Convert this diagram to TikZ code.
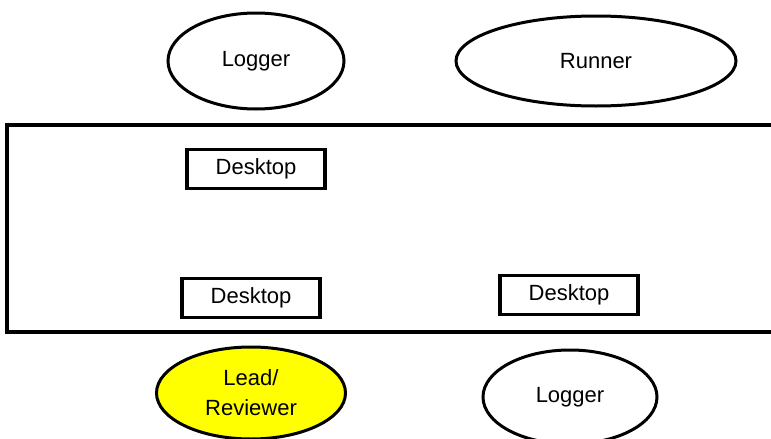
\documentclass[tikz,border=0pt]{standalone}
\usepackage{fontspec}
\setmainfont{Liberation Sans}
\usetikzlibrary{shapes.geometric}
\definecolor{UcYellow}{RGB}{255,255,0}
\tikzset{
  uc/actor/.style={
    ellipse,
    draw=black,
    line width=3pt,
    fill=white,
    align=center,
    inner sep=0pt,
    font=\fontsize{22}{30}\selectfont
  },
  uc/lead/.style={uc/actor, fill=UcYellow},
  uc/device/.style={
    rectangle,
    draw=black,
    line width=3.2pt,
    fill=white,
    minimum width=138pt,
    minimum height=39pt,
    inner sep=0pt,
    font=\fontsize{22}{28}\selectfont
  },
  uc/frame/.style={draw=black, line width=3.2pt}
}

\begin{document}
\begin{tikzpicture}[x=1pt,y=-1pt]
  \clip (0,0) rectangle (771,439);
  \draw[uc/frame] (7,125) rectangle (790,332);
  \node[uc/actor,minimum width=176pt,minimum height=96pt] (loggertop) at (256,61) {Logger};
  \node[uc/actor,minimum width=280pt,minimum height=90pt] (runner) at (596,61) {Runner};
  \node[uc/device] (desktopa) at (256,169) {Desktop};
  \node[uc/device] (desktopb) at (251,298) {Desktop};
  \node[uc/device] (desktopc) at (569,295) {Desktop};
  \node[uc/lead,minimum width=189pt,minimum height=92pt] (lead) at (251,393) {Lead/\\Reviewer};
  \node[uc/actor,minimum width=174pt,minimum height=94pt] (loggerbot) at (570,397) {Logger};
\end{tikzpicture}
\end{document}
